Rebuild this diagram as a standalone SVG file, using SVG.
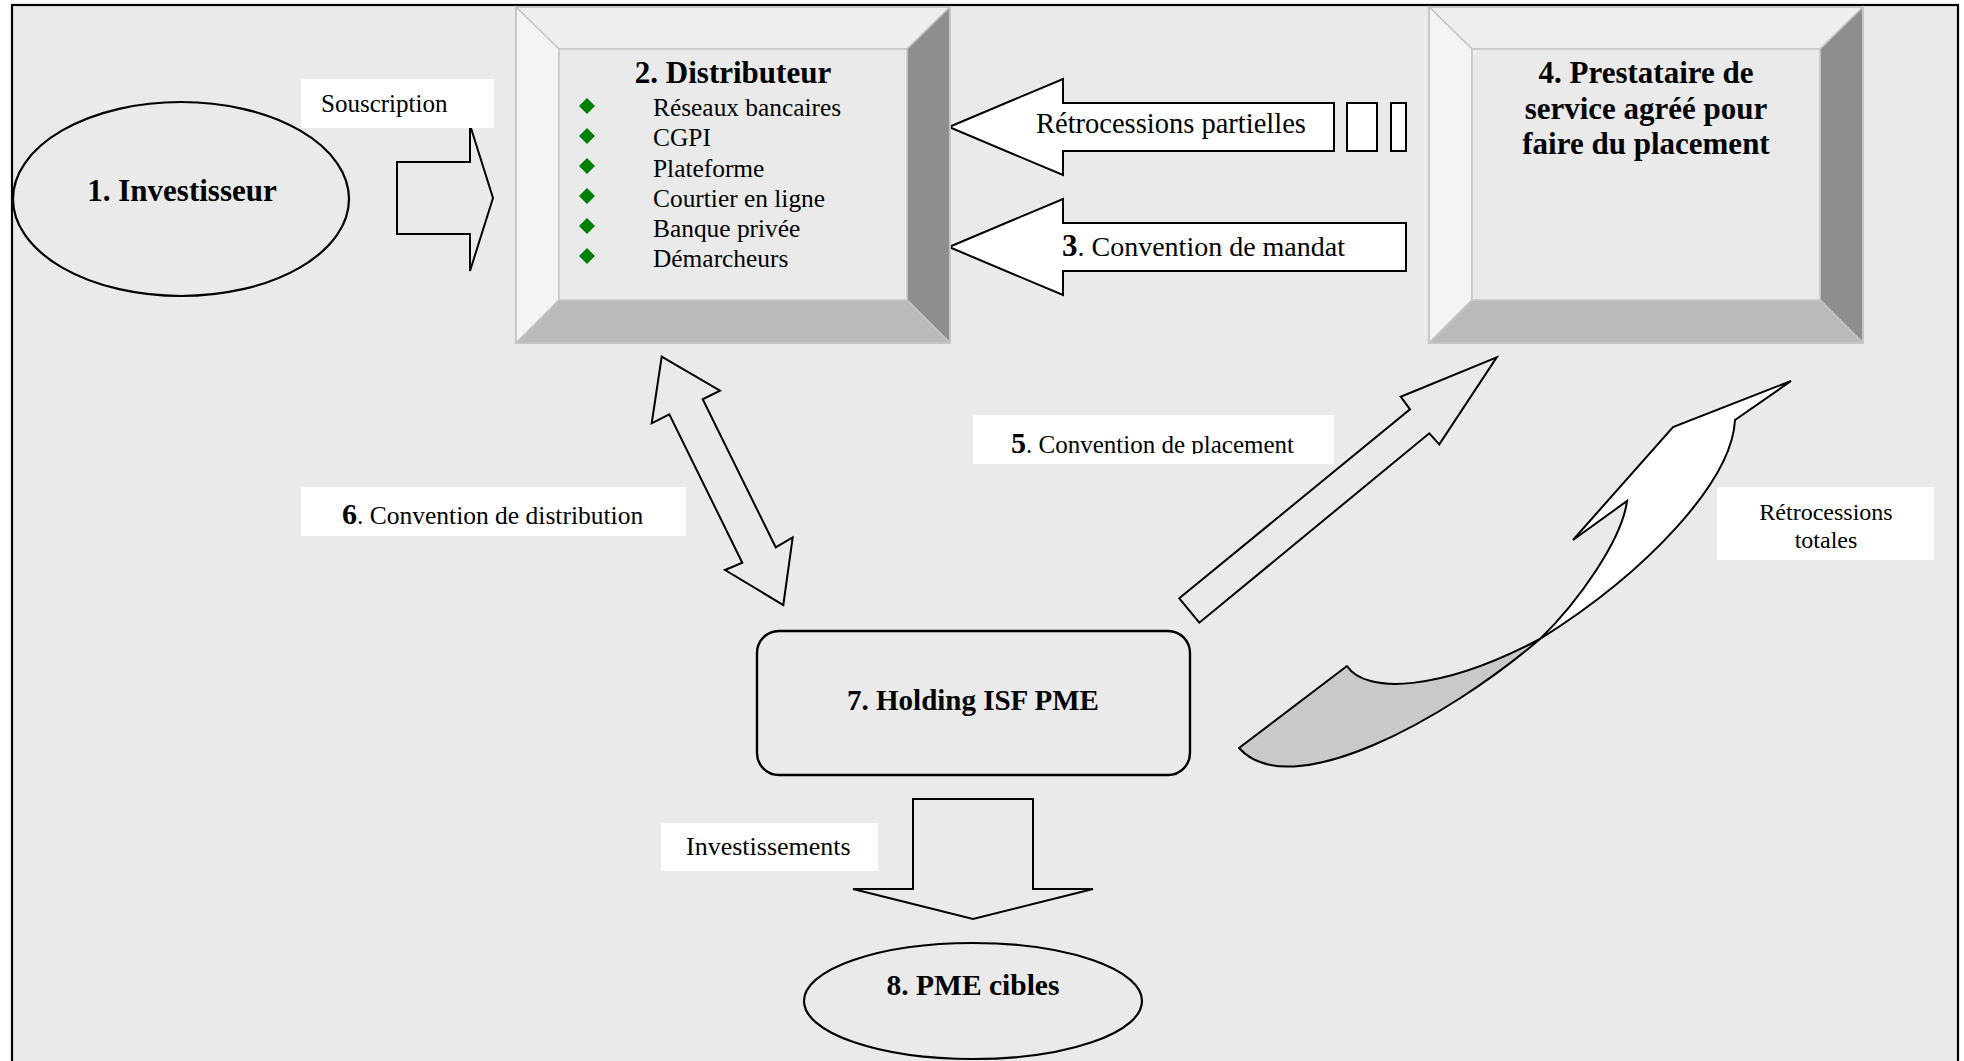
<svg xmlns="http://www.w3.org/2000/svg" width="1964" height="1061" viewBox="0 0 1964 1061">
<style>
text{font-family:"Liberation Serif","Times New Roman",serif;fill:#000}
.b{font-weight:bold}
.h{font-weight:bold;font-size:31px;text-anchor:middle}
.lbl{fill:#fff;stroke:none}
.blk{stroke:#000;stroke-width:2;stroke-linejoin:miter}
.bgf{fill:#eaeaea}
.wf{fill:#fff}
.bev{stroke:#c6c6c6;stroke-width:1.5;stroke-linejoin:miter}
.item{font-size:25.4px}
</style>
<defs>
<clipPath id="clip5"><rect x="973" y="415" width="361" height="39"/></clipPath>
<polygon id="dia" points="0,-8 8,0 0,8 -8,0" fill="#008000"/>
</defs>
<rect x="0" y="0" width="1964" height="1061" fill="#fff"/>
<rect x="12" y="5" width="1946" height="1070" fill="#eaeaea" stroke="#000" stroke-width="2.2"/>

<g id="connectors">
  <g id="c-souscription">
    <polygon class="blk bgf" points="397,162 470,162 470,125 493,198 470,271 470,234 397,234"/>
    <rect class="lbl" x="301" y="79" width="193" height="49"/>
    <text x="321" y="112" style="font-size:25px">Souscription</text>
  </g>
  <g id="c-retro-partielles">
    <polygon class="blk wf" points="949,127 1063,79 1063,103 1334,103 1334,151 1063,151 1063,175"/>
    <rect class="blk wf" x="1347" y="103" width="30" height="48"/>
    <rect class="blk wf" x="1391" y="103" width="15" height="48"/>
    <text x="1036" y="133" style="font-size:28.5px">Rétrocessions partielles</text>
  </g>
  <g id="c-mandat">
    <polygon class="blk wf" points="949,247 1063,199 1063,223 1406,223 1406,271 1063,271 1063,295"/>
    <text x="1062" y="256" style="font-size:28px"><tspan class="b" style="font-size:31px">3</tspan>. Convention de mandat</text>
  </g>
  <g id="c-distribution">
    <polygon class="blk bgf" points="661.7,356.7 720,390.7 702.7,399.3 775.7,547.3 792.7,537.3 783.3,605 725,570 742.3,562.7 669.3,414.3 651.7,423.3"/>
    <rect class="lbl" x="301" y="487" width="385" height="49"/>
    <text x="342" y="524" style="font-size:25.5px"><tspan class="b" style="font-size:30px">6</tspan>. Convention de distribution</text>
  </g>
  <g id="c-placement">
    <polygon class="blk bgf" points="1179.3,598.3 1410,409.3 1400.7,396.7 1496.7,357.3 1439.3,444.3 1429.3,433.3 1199.3,622.7"/>
    <rect class="lbl" x="973" y="415" width="361" height="49"/>
    <text x="1011" y="453" clip-path="url(#clip5)" style="font-size:25px"><tspan class="b" style="font-size:30px">5</tspan>. Convention de placement</text>
  </g>
  <g id="c-retro-totales">
    <path d="M1239,748 L1347,666 C1365,694 1440,692 1540,639 C1445,720 1290,805 1239,748 Z" fill="#c9c9c9" stroke="#000" stroke-width="2" stroke-linejoin="round"/>
    <path d="M1540,639 C1578,602 1622,540 1627,501 L1573,540 L1673,427 L1791,381 L1735,420 C1732,480 1650,570 1540,639 Z" fill="#fff" stroke="#000" stroke-width="2" stroke-linejoin="miter"/>
    <rect class="lbl" x="1717" y="487" width="217" height="73"/>
    <text x="1826" y="520" style="font-size:24px;text-anchor:middle">Rétrocessions</text>
    <text x="1826" y="548" style="font-size:24px;text-anchor:middle">totales</text>
  </g>
  <g id="c-investissements">
    <polygon class="blk bgf" points="913,799 1033,799 1033,889 1093,889 973,919 853,889 913,889"/>
    <rect class="lbl" x="661" y="823" width="217" height="48"/>
    <text x="686" y="855" style="font-size:26px">Investissements</text>
  </g>
</g>

<g id="node1">
  <ellipse cx="181" cy="199" rx="168" ry="97" fill="#eaeaea" stroke="#000" stroke-width="2.2"/>
  <text class="h" x="182" y="201">1. Investisseur</text>
</g>

<g id="node2">
  <polygon class="bev" fill="#efefef" points="516,7 950,7 907,49 559,49"/>
  <polygon class="bev" fill="#f4f4f4" points="516,7 559,49 559,300 516,343"/>
  <polygon class="bev" fill="#8e8e8e" points="950,7 950,343 907,300 907,49"/>
  <polygon class="bev" fill="#bababa" points="516,343 559,300 907,300 950,343"/>
  <rect class="bev" x="559" y="49" width="348" height="251" fill="#eaeaea"/>
  <rect x="516" y="7" width="434" height="336" fill="none" stroke="#c6c6c6" stroke-width="2"/>
  <text class="h" x="733" y="83">2. Distributeur</text>
  <use href="#dia" x="587" y="106"/>
  <use href="#dia" x="587" y="136"/>
  <use href="#dia" x="587" y="166"/>
  <use href="#dia" x="587" y="196"/>
  <use href="#dia" x="587" y="226"/>
  <use href="#dia" x="587" y="256"/>
  <text class="item" x="653" y="116">Réseaux bancaires</text>
  <text class="item" x="653" y="146">CGPI</text>
  <text class="item" x="653" y="176.5">Plateforme</text>
  <text class="item" x="653" y="206.5">Courtier en ligne</text>
  <text class="item" x="653" y="236.5">Banque privée</text>
  <text class="item" x="653" y="266.5">Démarcheurs</text>
</g>

<g id="node4">
  <polygon class="bev" fill="#efefef" points="1429,7 1863,7 1820,49 1472,49"/>
  <polygon class="bev" fill="#f4f4f4" points="1429,7 1472,49 1472,300 1429,343"/>
  <polygon class="bev" fill="#8e8e8e" points="1863,7 1863,343 1820,300 1820,49"/>
  <polygon class="bev" fill="#bababa" points="1429,343 1472,300 1820,300 1863,343"/>
  <rect class="bev" x="1472" y="49" width="348" height="251" fill="#eaeaea"/>
  <rect x="1429" y="7" width="434" height="336" fill="none" stroke="#c6c6c6" stroke-width="2"/>
  <text class="h" x="1646" y="83">4. Prestataire de</text>
  <text class="h" x="1646" y="119">service agréé pour</text>
  <text class="h" x="1646" y="154">faire du placement</text>
</g>

<g id="node7">
  <rect x="757" y="631" width="433" height="144" rx="22" ry="22" fill="#eaeaea" stroke="#000" stroke-width="2.4"/>
  <text class="h" x="973" y="710" style="font-size:29px">7. Holding ISF PME</text>
</g>

<g id="node8">
  <ellipse cx="973" cy="1001" rx="169" ry="58" fill="#eaeaea" stroke="#000" stroke-width="2.2"/>
  <text class="h" x="973" y="995" style="font-size:29.5px">8. PME cibles</text>
</g>
</svg>
